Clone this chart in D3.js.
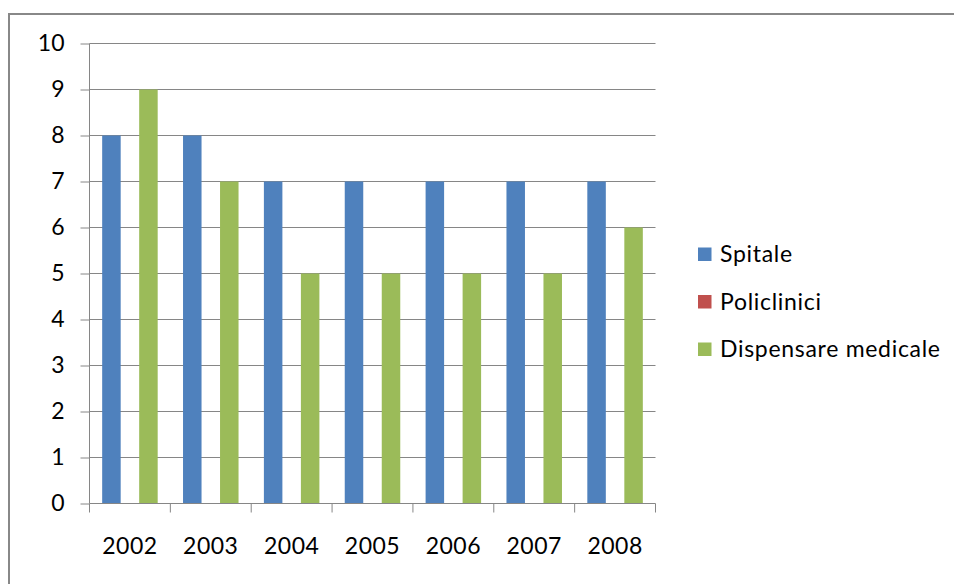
<!DOCTYPE html>
<html>
<head>
<meta charset="utf-8">
<script src="https://cdn.jsdelivr.net/npm/d3@7"></script>
<style>
  html, body { margin: 0; padding: 0; background: #fff; }
  svg { display: block; }
  text { font-family: Lato, "Open Sans", sans-serif; fill: #000; }
</style>
</head>
<body>
<svg id="chart" width="954" height="584"></svg>
<script>
const years = ["2002", "2003", "2004", "2005", "2006", "2007", "2008"];
const seriesNames = ["Spitale", "Policlinici", "Dispensare medicale"];
const spitale = [8, 8, 7, 7, 7, 7, 7];
const policlinici = [0, 0, 0, 0, 0, 0, 0];
const dispensare = [9, 7, 5, 5, 5, 5, 6];
const colors = ["#4F81BD", "#C0504D", "#9BBB59"];
const yTicks = [0, 1, 2, 3, 4, 5, 6, 7, 8, 9, 10];

(function () {
const seriesValues = [spitale, policlinici, dispensare];
const data = years.map((yr, i) => ({ year: yr, values: seriesValues.map(s => s[i]) }));

const svg = d3.select("#chart");

// outer frame (top and left visible)
svg.append("line").attr("x1", 9).attr("x2", 954).attr("y1", 14).attr("y2", 14)
  .attr("stroke", "#888").attr("stroke-width", 2);
svg.append("line").attr("x1", 9).attr("x2", 9).attr("y1", 13).attr("y2", 584)
  .attr("stroke", "#888").attr("stroke-width", 2);

const pLeft = 89.5, pRight = 655.5, pTop = 43.5, pBottom = 503.5;

const x0 = d3.scaleBand().domain(years).range([pLeft, pRight]).padding(0);
const x1 = d3.scaleBand().domain(seriesNames).range([0, x0.bandwidth()])
  .paddingInner(0).paddingOuter(0.685);
const y = d3.scaleLinear().domain([0, 10]).range([pBottom, pTop]);

// gridlines
svg.append("g").selectAll("line").data(yTicks.filter(d => d > 0)).join("line")
  .attr("x1", pLeft).attr("x2", pRight)
  .attr("y1", d => y(d)).attr("y2", d => y(d))
  .attr("stroke", "#868686").attr("stroke-width", 1);

// bars
const groups = svg.append("g").selectAll("g").data(data).join("g")
  .attr("transform", d => `translate(${x0(d.year)},0)`);
groups.selectAll("rect")
  .data(d => d.values.map((v, i) => ({ name: seriesNames[i], v, i })))
  .join("rect")
  .attr("x", d => x1(d.name))
  .attr("width", x1.bandwidth())
  .attr("y", d => y(d.v))
  .attr("height", d => pBottom - y(d.v))
  .attr("fill", d => colors[d.i]);

// y axis
const yAxis = svg.append("g").attr("transform", `translate(${pLeft},0)`)
  .call(d3.axisLeft(y).tickValues(yTicks).tickSize(9).tickPadding(16).tickFormat(d3.format("d")));
yAxis.select(".domain").attr("stroke", "#868686").attr("d", `M0,${pBottom}V${pTop}`);
yAxis.selectAll(".tick line").attr("stroke", "#868686");
yAxis.selectAll(".tick text").style("font-size", "23px").style("font-family", "Lato, sans-serif").attr("fill", "#000");

// x axis
const xAxis = svg.append("g").attr("transform", `translate(0,${pBottom})`)
  .call(d3.axisBottom(x0).tickSize(0).tickPadding(34));
xAxis.select(".domain").attr("stroke", "#868686").attr("d", `M${pLeft},0H${pRight}`);
xAxis.selectAll(".tick text").style("font-size", "23px").style("font-family", "Lato, sans-serif")
  .style("letter-spacing", "0.5px").attr("fill", "#000");
// category boundary ticks
svg.append("g").selectAll("line").data(years.concat(["end"])).join("line")
  .attr("x1", (d, i) => i < years.length ? x0(d) : pRight)
  .attr("x2", (d, i) => i < years.length ? x0(d) : pRight)
  .attr("y1", pBottom).attr("y2", pBottom + 9)
  .attr("stroke", "#868686").attr("stroke-width", 1);

// legend
const legend = svg.append("g").selectAll("g").data(seriesNames).join("g")
  .attr("transform", (d, i) => `translate(698,${254 + i * 47.5})`);
legend.append("rect").attr("x", 0).attr("y", -6.5).attr("width", 13.5).attr("height", 13.5)
  .attr("fill", (d, i) => colors[i]);
legend.append("text").attr("x", 22).attr("y", 0).attr("dy", "0.35em")
  .style("font-size", "23px").style("letter-spacing", "0.7px").text(d => d);
})();
</script>
</body>
</html>
